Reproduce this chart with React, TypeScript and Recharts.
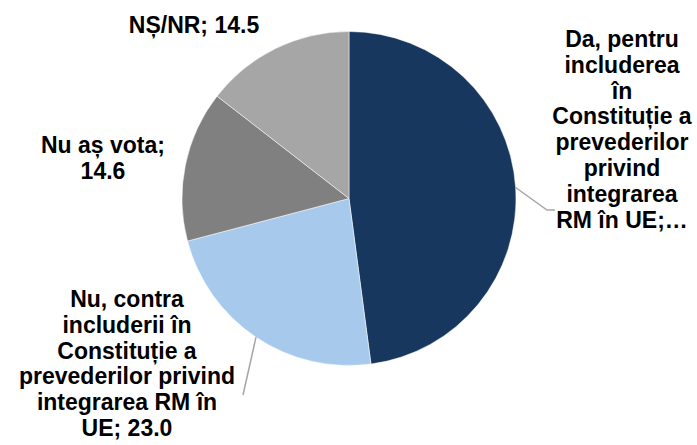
import { PieChart, Pie, Cell } from "recharts"

const categories = [
  "Da, pentru includerea în Constituție a prevederilor privind integrarea RM în UE",
  "Nu, contra includerii în Constituție a prevederilor privind integrarea RM în UE",
  "Nu aș vota",
  "NȘ/NR",
]
const values = [47.9, 23.0, 14.6, 14.5]
const labelLines = [
  ["Da, pentru", "includerea", "în", "Constituție a", "prevederilor", "privind", "integrarea", "RM în UE;…"],
  ["Nu, contra", "includerii în", "Constituție a", "prevederilor privind", "integrarea RM în", "UE; 23.0"],
  ["Nu aș vota;", "14.6"],
  ["NȘ/NR; 14.5"],
]
const colors = ["#17375E", "#A7CAEC", "#808080", "#A6A6A6"]

// label placement: text centre x, first baseline y, optional leader end
const labelLayout = [
  { x: 622, y: 47, leader: [[547, 210], [555, 210]] },
  { x: 127, y: 307, leader: [[243, 395]] },
  { x: 103, y: 153, leader: null },
  { x: 194, y: 33, leader: null },
]
const LINE_H = 25.8
const RAD = Math.PI / 180

const data = categories.map((name, i) => ({ name, value: values[i] }))

function renderLabel(props: any) {
  const { cx, cy, midAngle, outerRadius, index } = props
  const lay = labelLayout[index]
  const sx = cx + outerRadius * Math.cos(-midAngle * RAD)
  const sy = cy + outerRadius * Math.sin(-midAngle * RAD)
  return (
    <g key={`lbl-${index}`}>
      {lay.leader && (
        <polyline
          points={[[sx, sy], ...lay.leader].map((p) => p.join(",")).join(" ")}
          fill="none"
          stroke="#A6A6A6"
          strokeWidth={1.5}
        />
      )}
      <text
        x={lay.x}
        y={lay.y}
        textAnchor="middle"
        fill="#000"
        fontFamily="'Liberation Sans', Arial, sans-serif"
        fontWeight="bold"
        fontSize={23}
      >
        {labelLines[index].map((line, j) => (
          <tspan key={j} x={lay.x} y={lay.y + j * LINE_H}>
            {line}
          </tspan>
        ))}
      </text>
    </g>
  )
}

export default function App() {
  return (
    <div style={{ position: "absolute", left: 0, top: 0, width: 697, height: 445, background: "#fff" }}>
      <PieChart width={697} height={445} margin={{ top: 0, right: 0, bottom: 0, left: 0 }}>
        <Pie
          data={data}
          dataKey="value"
          nameKey="name"
          cx={349}
          cy={198.5}
          outerRadius={167}
          startAngle={90}
          endAngle={-270}
          stroke="#ffffff"
          strokeWidth={0.5}
          label={renderLabel}
          labelLine={false}
          isAnimationActive={false}
        >
          {data.map((d, i) => (
            <Cell key={d.name} fill={colors[i]} />
          ))}
        </Pie>
      </PieChart>
    </div>
  )
}
